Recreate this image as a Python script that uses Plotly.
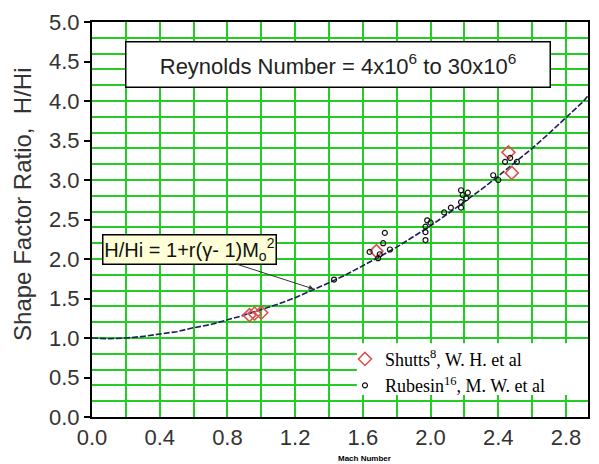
import plotly.graph_objects as go

# Correlation curve H/Hi vs Mach number
curve_mach = [0.0, 0.1, 0.2, 0.3, 0.4, 0.5, 0.6, 0.7, 0.8, 0.9, 1.0, 1.1, 1.2, 1.3, 1.4,
              1.5, 1.6, 1.7, 1.8, 1.9, 2.0, 2.1, 2.2, 2.3, 2.4, 2.5, 2.6, 2.7, 2.8, 2.9, 2.96]
curve_ratio = [1.00, 0.99, 1.00, 1.02, 1.05, 1.08, 1.13, 1.17, 1.23, 1.29, 1.36, 1.43, 1.51, 1.60, 1.70,
               1.80, 1.91, 2.03, 2.15, 2.28, 2.42, 2.57, 2.72, 2.88, 3.05, 3.22, 3.40, 3.59, 3.79, 3.99, 4.14]

# Shutts, W. H. et al
shutts_mach = [0.93, 0.96, 1.00, 1.68, 2.46, 2.48]
shutts_ratio = [1.29, 1.31, 1.32, 2.10, 3.35, 3.09]

# Rubesin, M. W. et al
rubesin_mach = [1.43, 1.64, 1.69, 1.70, 1.72, 1.73, 1.76,
                1.97, 1.97, 1.97, 1.98, 2.00, 2.08, 2.12,
                2.18, 2.18, 2.19, 2.18, 2.21, 2.22,
                2.37, 2.40, 2.44, 2.47, 2.51]
rubesin_ratio = [1.74, 2.09, 2.01, 2.06, 2.20, 2.33, 2.12,
                 2.24, 2.34, 2.41, 2.49, 2.46, 2.59, 2.65,
                 2.65, 2.72, 2.81, 2.87, 2.77, 2.84,
                 3.06, 3.00, 3.23, 3.28, 3.23]

x_range = [0, 2.93]
y_range = [0, 5]

GRID = "rgb(35,205,35)"
SANS = "Arial, Liberation Sans, sans-serif"
TICKFONT = dict(family=SANS, size=22, color="#333333")

fig = go.Figure()

fig.add_trace(go.Scatter(
    x=curve_mach, y=curve_ratio, mode="lines",
    line=dict(color="#1e1e5e", width=1.6, dash="6px,2px"),
    showlegend=False, hoverinfo="skip"))

fig.add_trace(go.Scatter(
    x=shutts_mach, y=shutts_ratio, mode="markers",
    name="Shutts<sup>8</sup>, W. H. et al", legendgroup="a",
    marker=dict(symbol="diamond-open", size=10, color="#d9534f", line=dict(width=1.6))))

fig.add_trace(go.Scatter(
    x=rubesin_mach, y=rubesin_ratio, mode="markers",
    name="Rubesin<sup>16</sup>, M. W. et al", legendgroup="b",
    marker=dict(symbol="circle-open", size=5, color="#111111", line=dict(width=1.2))))

# carrier for the labelled left axis
fig.add_trace(go.Scatter(x=[], y=[], yaxis="y2", showlegend=False))

fig.update_layout(
    width=599, height=464,
    margin=dict(l=92, r=11, t=22, b=47),
    paper_bgcolor="white", plot_bgcolor="white",
    xaxis=dict(
        range=x_range, tick0=0, dtick=0.4, tickformat=".1f",
        showgrid=True, gridcolor=GRID, gridwidth=2,
        minor=dict(dtick=0.2, showgrid=True, gridcolor=GRID, gridwidth=2),
        showline=True, mirror=True, linecolor="black", linewidth=2,
        ticks="", zeroline=False, tickfont=TICKFONT, ticklabelstandoff=0,
        automargin=False),
    yaxis=dict(
        range=y_range, tick0=0, dtick=0.2,
        showgrid=True, gridcolor=GRID, gridwidth=2,
        showticklabels=False, ticks="",
        showline=True, mirror=True, linecolor="black", linewidth=2,
        zeroline=False, automargin=False),
    yaxis2=dict(
        overlaying="y", side="left", range=y_range, tick0=0, dtick=0.5,
        tickformat=".1f", showgrid=False, zeroline=False, showline=False,
        ticks="outside", ticklen=7, tickwidth=2, tickcolor="black",
        tickfont=TICKFONT, automargin=False),
    legend=dict(
        x=0.51, y=0.193, xanchor="left", yanchor="top",
        bgcolor="rgba(0,0,0,0)", traceorder="grouped", tracegroupgap=0,
        font=dict(family="Liberation Serif, Times New Roman, serif", size=18, color="black")),
    showlegend=True,
)

# white panel behind the legend entries
fig.add_shape(type="rect", xref="paper", yref="paper",
              x0=0.534, x1=1.0, y0=0.056, y1=0.187,
              fillcolor="white", line=dict(width=0), layer="above")

# vertical axis title
fig.add_annotation(
    x=-0.139, y=0.537, xref="paper", yref="paper",
    text="Shape Factor Ratio,\u00a0\u00a0H/Hi", textangle=-90,
    showarrow=False, xanchor="center", yanchor="middle",
    font=dict(family=SANS, size=24, color="#333333"))

fig.add_annotation(
    x=1.456, y=4.46, xref="x", yref="y",
    text="Reynolds Number = 4x10<sup>6</sup> to 30x10<sup>6</sup>",
    showarrow=False, width=421, height=42,
    bgcolor="white", bordercolor="black", borderwidth=1.5,
    font=dict(family=SANS, size=22, color="#222222"))

fig.add_annotation(
    x=1.31, y=1.62, xref="x", yref="y",
    ax=-124, ay=-40,
    text="H/Hi = 1+r(\u03b3- 1)M<sub>o</sub><sup>2</sup>",
    showarrow=True, arrowhead=2, arrowsize=1, arrowwidth=1, arrowcolor="#333333",
    width=170, height=26,
    bgcolor="#ffffd8", bordercolor="black", borderwidth=1.5,
    font=dict(family=SANS, size=20, color="#111111"))

fig.add_annotation(
    x=0.55, y=-0.104, xref="paper", yref="paper",
    text="<b>Mach Number</b>", showarrow=False,
    xanchor="center", yanchor="middle",
    font=dict(family=SANS, size=8, color="black"))

fig.write_html("out.html")
